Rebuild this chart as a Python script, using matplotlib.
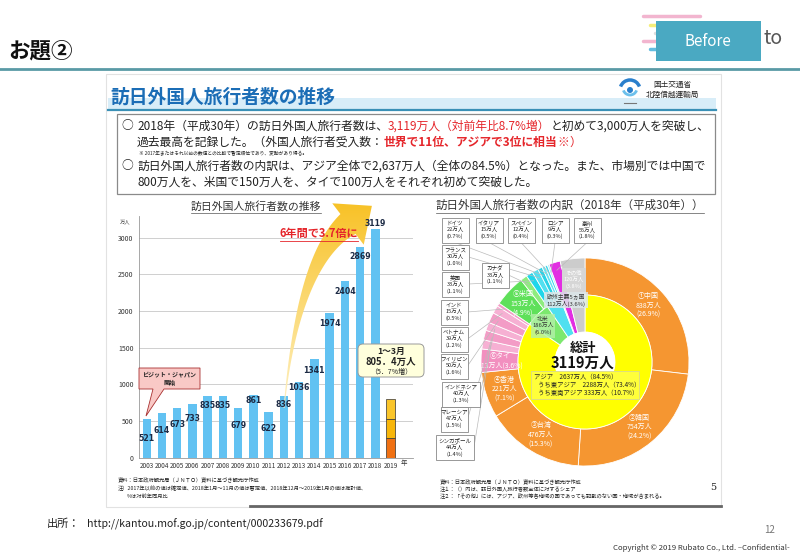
import numpy as np
import matplotlib.pyplot as plt
from matplotlib.patches import Rectangle, FancyBboxPatch, Polygon, Circle, Arc

plt.rcParams['font.family'] = ['Noto Sans CJK JP', 'DejaVu Sans']

# ---- data -------------------------------------------------------------
years = ['2003', '2004', '2005', '2006', '2007', '2008', '2009', '2010', '2011',
         '2012', '2013', '2014', '2015', '2016', '2017', '2018', '2019']
visitors = [521, 614, 673, 733, 835, 835, 679, 861, 622, 836, 1036, 1341,
            1974, 2404, 2869, 3119]
visitors_2019_q1 = [269, 260, 276]          # Jan, Feb, Mar 2019 (stacked)

outer_names = ['中国', '韓国', '台湾', '香港', 'タイ', 'シンガポール', 'マレーシア',
               'インドネシア', 'フィリピン', 'ベトナム', 'インド', '米国', 'カナダ',
               '英国', 'フランス', 'ドイツ', 'イタリア', 'スペイン', 'ロシア', '豪州', 'その他']
outer_vals = [838, 754, 476, 221, 113, 44, 47, 40, 50, 39, 15, 153, 33,
              33, 30, 22, 15, 12, 9, 55, 120]
outer_pcts = ['26.9', '24.2', '15.3', '7.1', '3.6', '1.4', '1.5', '1.3', '1.6', '1.2',
              '0.5', '4.9', '1.1', '1.1', '1.0', '0.7', '0.5', '0.4', '0.3', '1.8', '3.8']
inner_names = ['アジア', '北米', '欧州主要5ヵ国', 'ロシア', '豪州', 'その他']
inner_vals = [2637, 186, 112, 9, 55, 120]

# ---- styles / layout ----------------------------------------------------
RED = '#e5262b'
BAR = '#62c2f2'
q1_colors = ['#f07012', '#f8b60a', '#fac52a']
label_dy = [-262, -246, -223, -201, -126, -126, -242, -83, -226, -113, -81,
            -154, -146, -139, -127, 73]
orange = '#f59631'
outer_colors = [orange] * 4 + ['#f28fbf', '#f6b0d3', '#f39cc6', '#f6b0d3', '#f39cc6',
                               '#f6b0d3', '#f39cc6', '#5fe05a', '#8eec7e', '#1fd6ea',
                               '#52e0f0', '#2ad2e6', '#66e5f3', '#3fd9ec', '#aaeef8',
                               '#e22ee2', '#cccccc']
inner_colors = ['#ffff00', '#7ce86e', '#4fe0f0', '#aaeef8', '#e22ee2', '#cccccc']
CX, CY, R_OUT, R_MID, R_IN = 585, 362, 104, 67, 30
boxes = {'ドイツ': (455, 230, 'b'), 'イタリア': (489, 230, 'b'), 'スペイン': (521, 230, 'b'),
         'ロシア': (555, 230, 'b'), '豪州': (587, 230, 'b'), 'フランス': (455, 257, 'r'),
         '英国': (455, 284, 'r'), 'カナダ': (495, 275, 'r'), 'インド': (454, 312, 'r'),
         'ベトナム': (454, 339, 'r'), 'フィリピン': (454, 366, 'r'),
         'インドネシア': (461, 394, 'r'), 'マレーシア': (454, 419, 'r'),
         'シンガポール': (455, 447, 'r')}
inside = {'中国': '①', '韓国': '②', '台湾': '③', '香港': '④', '米国': '⑤', 'タイ': '⑥'}

fig = plt.figure(figsize=(8, 5.54), dpi=100)
ov = fig.add_axes([0, 0, 1, 1], zorder=10)
ov.set_xlim(0, 800)
ov.set_ylim(554, 0)
ov.axis('off')
renderer = fig.canvas.get_renderer()


def px_axes(x0, y0, x1, y1, **kw):
    return fig.add_axes([x0 / 800, 1 - y1 / 554, (x1 - x0) / 800, (y1 - y0) / 554], **kw)


def T(x, y, s, size, color='#222222', weight='normal', ha='left', va='center', **kw):
    return ov.text(x, y, s, fontsize=size, color=color, fontweight=weight,
                   ha=ha, va=va, **kw)


def runs(x, y, parts, size):
    for s, c, w in parts:
        t = T(x, y, s, size, color=c, weight=w)
        bb = t.get_window_extent(renderer)
        x = ov.transData.inverted().transform((bb.x1, bb.y0))[0]


def underline(t, color, lw=0.7, pad=1.5):
    bb = t.get_window_extent(renderer)
    inv = ov.transData.inverted()
    (x0, y0), (x1, _) = inv.transform((bb.x0, bb.y0)), inv.transform((bb.x1, bb.y0))
    ov.plot([x0, x1], [y0 + pad, y0 + pad], color=color, lw=lw)


# ---- slide header ---------------------------------------------------------
T(8, 51, 'お題②', 15.5, color='#111111', weight='bold')
ov.plot([0, 800], [69, 69], color='#5a9aa6', lw=2)
for (x0, x1, y, c) in [(643, 700, 16, '#f2b5cf'), (650, 660, 25, '#f5ee7a'),
                       (655, 665, 33, '#dddddd'), (643, 662, 41, '#f2b5cf'),
                       (650, 662, 49, '#63bde0')]:
    ov.plot([x0, x1], [y, y], color=c, lw=2.5, solid_capstyle='round')
ov.add_patch(Rectangle((656, 21), 105, 40, fc='#4aa9c2', ec='none', zorder=3))
T(708, 41, 'Before', 11, color='white', ha='center', zorder=4)
T(764, 38, 'to', 14, color='#555555')

# ---- embedded slide ---------------------------------------------------------
ov.add_patch(Rectangle((106, 74), 615, 433, fc='none', ec='#e2e2e2', lw=0.8))
ov.plot([250, 721], [506, 506], color='#666666', lw=2)
ov.add_patch(Rectangle((108, 98), 608, 11, fc='#d8edf8', ec='none'))
ov.plot([108, 716], [110, 110], color='#3a90b6', lw=1.6)
T(110, 97, '訪日外国人旅行者数の推移', 13.5, color='#1b6db6', weight='bold')
ov.add_patch(Arc((630, 90), 20, 20, theta1=200, theta2=340, color='#2a7fcc', lw=2.5))
ov.add_patch(Arc((630, 88), 14, 14, theta1=20, theta2=160, color='#6cc0ec', lw=2))
ov.add_patch(Circle((630, 90), 3, fc='#2a7fcc', ec='none'))
ov.plot([624, 636], [103, 103], color='#777777', lw=0.8)
T(672, 85, '国土交通省', 5.5, ha='center')
T(672, 95, '北陸信越運輸局', 5.5, ha='center')

ov.add_patch(Rectangle((117, 114), 598, 80, fc='white', ec='#8a8a8a', lw=0.9))
fs = 8.5
T(121, 126, '○', fs)
runs(137, 126, [('2018年（平成30年）の訪日外国人旅行者数は、', '#222222', 'normal'),
                ('3,119万人（対前年比8.7%増）', RED, 'normal'),
                ('と初めて3,000万人を突破し、', '#222222', 'normal')], fs)
runs(137, 142, [('過去最高を記録した。（外国人旅行者受入数：', '#222222', 'normal'),
                ('世界で11位、アジアで3位に相当', RED, 'bold'),
                ('※', RED, 'normal'), ('）', RED, 'normal')], fs)
T(139, 154, '※ 2017年またはそれ以前の数値との比較で暫定順位であり、変動があり得る。', 3.4)
T(121, 166, '○', fs)
T(137, 166, '訪日外国人旅行者数の内訳は、アジア全体で2,637万人（全体の84.5%）となった。'
            'また、市場別では中国で', fs)
T(137, 182, '800万人を、米国で150万人を、タイで100万人をそれぞれ初めて突破した。', fs)

# ---- bar chart ---------------------------------------------------------------
t = T(256, 206, '訪日外国人旅行者数の推移', 7.8, color='#333333', ha='center')
underline(t, '#555555', lw=0.5)
bx = px_axes(139, 215.7, 413, 457.7, facecolor='none')
xs = np.arange(len(visitors))
bx.bar(xs, visitors, width=0.55, color=BAR, zorder=2)
bottom = 0
for v, c in zip(visitors_2019_q1, q1_colors):
    bx.bar(len(visitors), v, bottom=bottom, width=0.55, color=c,
           edgecolor='#333333', lw=0.5, zorder=2)
    bottom += v
bx.set_xlim(-0.505, 17.47)
bx.set_ylim(0, 3300)
bx.set_yticks(range(0, 3001, 500))
bx.set_xticks(range(len(years)))
bx.set_xticklabels(years, fontsize=4.6, color='#333333')
bx.tick_params(axis='y', labelsize=5, colors='#333333', length=0, pad=4)
bx.tick_params(axis='x', length=0, pad=3)
bx.grid(axis='y', color='#c8c8c8', lw=0.6, zorder=0)
for s in ['top', 'right']:
    bx.spines[s].set_visible(False)
bx.spines['left'].set_color('#999999')
bx.spines['bottom'].set_color('#999999')
bx.spines['left'].set_linewidth(0.6)
bx.spines['bottom'].set_linewidth(0.6)
# value labels drawn on the overlay so they sit above the arrow
for x, v, dy in zip(xs, visitors, label_dy):
    ov.text(x, v + dy, str(v), transform=bx.transData, ha='center', va='center',
            fontsize=5.6, fontweight='bold', color='#1d2b45', family='DejaVu Sans',
            zorder=6)
T(125, 222, '万人', 3.8, color='#444444', ha='center')
T(404, 463, '年', 4.6, color='#333333', ha='center')

# growth arrow (gradient filled polygon)
P0, P1, P2 = np.array([284, 408.]), np.array([298, 262.]), np.array([348, 224.])
tt = np.linspace(0, 1, 50)[:, None]
pts = (1 - tt) ** 2 * P0 + 2 * (1 - tt) * tt * P1 + tt ** 2 * P2
d = 2 * (1 - tt) * (P1 - P0) + 2 * tt * (P2 - P1)
n = np.column_stack([-d[:, 1], d[:, 0]]) / np.linalg.norm(d, axis=1)[:, None]
w = 1 + 24 * tt ** 1.6
u = (P2 - P1) / np.linalg.norm(P2 - P1)
nu = np.array([-u[1], u[0]])
outline = np.vstack([pts + n * w / 2, [P2 + nu * 26, P2 + u * 30, P2 - nu * 26],
                     (pts - n * w / 2)[::-1]])
arrow = Polygon(outline, closed=True, fc='none', ec='none')
ov.add_patch(arrow)
grad = np.linspace(0, 1, 200)[:, None, None]
top_c, bot_c = np.array([0.97, 0.75, 0.12]), np.array([1.0, 0.95, 0.78])
img = np.repeat(top_c * (1 - grad) + bot_c * grad, 2, axis=1)
im = ov.imshow(img, extent=(265, 385, 412, 192), origin='upper', aspect='auto', zorder=2)
im.set_clip_path(arrow)
ov.set_xlim(0, 800)
ov.set_ylim(554, 0)

t = T(319, 233, '6年間で3.7倍に', 8, color=RED, weight='bold', ha='center', zorder=5)
underline(t, RED, lw=0.6, pad=1)

ov.add_patch(Polygon([(139, 368), (200, 368), (200, 389), (164, 389), (146, 416),
                      (153, 389), (139, 389)], closed=True, fc='#f9c9c6',
                     ec='#a83030', lw=0.6))
T(169.5, 375, 'ビジット・ジャパン', 4.3, color='#222222', weight='bold', ha='center')
T(169.5, 383, '開始', 4.3, color='#222222', weight='bold', ha='center')
ov.add_patch(FancyBboxPatch((358, 344), 66, 33, boxstyle='round,pad=0,rounding_size=5',
                            fc='#ffffdc', ec='#9a9a9a', lw=0.7))
T(391, 351, '1～3月', 6.3, weight='bold', ha='center')
T(391, 362, '805．4万人', 6.8, weight='bold', ha='center')
T(391, 372, '（5．7%増）', 5, ha='center')

T(118, 480, '資料：日本政府観光局（ＪＮＴＯ）資料に基づき観光庁作成', 3.8)
T(118, 488, '注）2017年以前の値は確定値、2018年1月～11月の値は暫定値、'
            '2018年12月～2019年1月の値は推計値、', 3.8)
T(127, 496, '%は対前年同月比', 3.8)

# ---- donut chart ----------------------------------------------------------------
t = T(570, 205, '訪日外国人旅行者数の内訳（2018年（平成30年））', 8.3, color='#333333',
      ha='center')
underline(t, '#555555', lw=0.5)
dx = px_axes(CX - 110, CY - 110, CX + 110, CY + 110, facecolor='none')
dx.pie(outer_vals, radius=R_OUT, startangle=90, counterclock=False, colors=outer_colors,
       wedgeprops=dict(width=R_OUT - R_MID, edgecolor='white', linewidth=0.6))
dx.pie(inner_vals, radius=R_MID, startangle=90, counterclock=False, colors=inner_colors,
       wedgeprops=dict(width=R_MID - R_IN, edgecolor='white', linewidth=0.6))
dx.add_patch(Circle((0, 0), R_IN, fc='white', ec='none'))
dx.set_xlim(-110, 110)
dx.set_ylim(-110, 110)

total = sum(outer_vals)
starts = np.cumsum([0] + outer_vals[:-1])
for name, v, p, s0 in zip(outer_names, outer_vals, outer_pcts, starts):
    th = np.deg2rad((s0 + v / 2) / total * 360)
    if name in inside:
        r = 85
        txt = f'{inside[name]}{name}\n{v}万人\n({p}%)'
        if name == 'タイ':
            txt = f'{inside[name]}{name}\n{v}万人({p}%)'
        dx.text(r * np.sin(th), r * np.cos(th), txt, ha='center', va='center',
                fontsize=5, color='white', linespacing=1.25)
    elif name in boxes:
        bxc, byc, side = boxes[name]
        bw = 38 if name in ('インドネシア', 'シンガポール') else 27
        bh = 25
        ov.add_patch(Rectangle((bxc - bw / 2, byc - bh / 2), bw, bh, fc='white',
                               ec='#888888', lw=0.6, zorder=4))
        T(bxc, byc, f'{name}\n{v}万人\n({p}%)', 4, ha='center', linespacing=1.3,
          zorder=5)
        sx, sy = (bxc, byc + bh / 2) if side == 'b' else (bxc + bw / 2, byc)
        ex, ey = CX + 96 * np.sin(th), CY - 96 * np.cos(th)
        ov.plot([sx, ex], [sy, ey], color='#bbbbbb', lw=0.5, zorder=3)

# その他 label on gray wedge, region labels on the inner ring
ov.add_patch(Rectangle((562, 268), 24, 24, fc='#d6d6d6', ec='none', zorder=4))
T(574, 280, f'{outer_names[-1]}\n{outer_vals[-1]}万人\n({outer_pcts[-1]}%)', 4,
  color='white', ha='center', linespacing=1.3, zorder=5)
ov.add_patch(Rectangle((531, 314), 24, 24, fc='#b4f0a8', ec='none', alpha=0.8, zorder=4))
T(543, 326, f'{inner_names[1]}\n{inner_vals[1]}万人\n(6.0%)', 4.2, color='#333333',
  ha='center', linespacing=1.3, zorder=5)
ov.add_patch(Rectangle((544, 292), 44, 16, fc='#dde8ea', ec='none', alpha=0.85, zorder=4))
T(566, 300, f'{inner_names[2]}\n{inner_vals[2]}万人(3.6%)', 4.2, color='#333333',
  ha='center', linespacing=1.3, zorder=5)

dx.text(-2, 14, '総計', ha='center', va='center', fontsize=9.5, fontweight='bold',
        color='#111111')
dx.text(-2, -1, '3119万人', ha='center', va='center', fontsize=10.5, fontweight='bold',
        color='#111111')
ov.add_patch(Rectangle((531, 371), 108, 28, fc='#ffff3a', ec='#d8d890', lw=0.6, zorder=4))
T(534, 377, 'アジア　2637万人（84.5%）', 4.6, zorder=5)
T(538, 385, 'うち東アジア　2288万人（73.4%）', 4.6, zorder=5)
T(538, 393, 'うち東南アジア 333万人（10.7%）', 4.6, zorder=5)

T(440, 482, '資料：日本政府観光局（ＪＮＴＯ）資料に基づき観光庁作成', 3.8)
T(440, 489, '注１：（）内は、訪日外国人旅行者数全体に対するシェア', 3.8)
T(440, 496, '注２：「その他」には、アジア、欧州等各地域の国であっても'
            '記載のない国・地域が含まれる。', 3.8)
T(713, 487, '5', 7, family='DejaVu Serif', ha='center')

# ---- footer ---------------------------------------------------------------------
T(47, 524, '出所：', 8)
T(87, 524, 'http://kantou.mof.go.jp/content/000233679.pdf', 7.6)
T(770, 530, '12', 7, color='#777777', ha='center')
T(790, 548, 'Copyright © 2019 Rubato Co., Ltd. –Confidential-', 5.6, color='#333333',
  ha='right')

fig.savefig('out.png', dpi=100)
